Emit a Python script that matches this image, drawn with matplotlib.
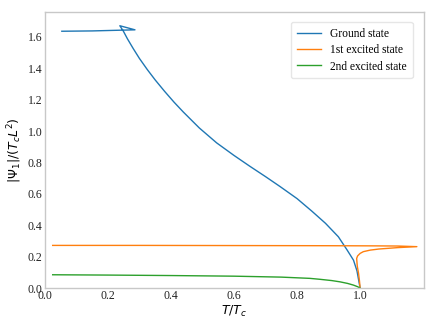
import matplotlib
matplotlib.use("Agg")
import matplotlib.pyplot as plt

# Ground state (includes the small swallowtail loop near T/Tc ~ 0.25)
ground_x = [0.054, 0.150, 0.286, 0.238, 0.249, 0.262, 0.280, 0.300, 0.325, 0.350, 0.380,
            0.410, 0.439, 0.490, 0.545, 0.600, 0.651, 0.700, 0.746, 0.800, 0.847,
            0.890, 0.931, 0.958, 0.979, 0.990, 1.000]
ground_y = [1.636, 1.638, 1.645, 1.671, 1.637, 1.588, 1.527, 1.463, 1.392, 1.326, 1.253,
            1.184, 1.122, 1.020, 0.925, 0.845, 0.775, 0.710, 0.647, 0.570, 0.490,
            0.413, 0.327, 0.245, 0.178, 0.110, 0.000]

# 1st excited state (upper branch, tip, lower branch back to Tc)
first_x = [0.025, 0.300, 0.600, 0.900, 1.050, 1.120, 1.180, 1.120, 1.060, 1.032,
           1.010, 1.000, 0.992, 0.989, 0.991, 0.995, 0.998, 1.000]
first_y = [0.272, 0.272, 0.271, 0.270, 0.269, 0.268, 0.264, 0.258, 0.249, 0.242,
           0.232, 0.221, 0.205, 0.189, 0.140, 0.094, 0.045, 0.000]

# 2nd excited state
second_x = [0.025, 0.200, 0.400, 0.600, 0.750, 0.841, 0.873, 0.910, 0.936, 0.960,
            0.979, 0.992, 1.000]
second_y = [0.085, 0.083, 0.080, 0.076, 0.070, 0.062, 0.056, 0.048, 0.040, 0.030,
            0.019, 0.009, 0.000]

labels = ["Ground state", "1st excited state", "2nd excited state"]
colors = ["#1f77b4", "#ff7f0e", "#2ca02c"]
xticks = [0.0, 0.2, 0.4, 0.6, 0.8, 1.0]
yticks = [0.0, 0.2, 0.4, 0.6, 0.8, 1.0, 1.2, 1.4, 1.6]

fig = plt.figure(figsize=(4.35, 3.18), dpi=100)
ax = fig.add_axes([0.103, 0.094, 0.872, 0.868])

ax.plot(ground_x, ground_y, color=colors[0], lw=1.0, label=labels[0])
ax.plot(first_x, first_y, color=colors[1], lw=1.0, label=labels[1])
ax.plot(second_x, second_y, color=colors[2], lw=1.0, label=labels[2])

ax.set_xlim(0, 1.203)
ax.set_ylim(0, 1.758)
ax.set_xticks(xticks)
ax.set_yticks(yticks)
ax.set_xticklabels([f"{v:.1f}" for v in xticks], family="Liberation Serif", fontsize=8.5)
ax.set_yticklabels([f"{v:.1f}" for v in yticks], family="Liberation Serif", fontsize=8.5)
ax.tick_params(length=0, pad=1.5, colors="#222222")
for s in ax.spines.values():
    s.set_color("#c8c8c8")
    s.set_linewidth(1.0)

ax.set_xlabel(r"$T/T_c$", fontsize=9, labelpad=1)
ax.set_ylabel(r"$|\Psi_1|/(T_c L^2)$", fontsize=9, labelpad=3)

leg = ax.legend(loc="upper right", prop={"family": "Liberation Serif", "size": 8.3},
                frameon=True, fancybox=True, framealpha=1.0, edgecolor="#e6e6e6",
                handlelength=2.1, handletextpad=0.8, borderpad=0.5, labelspacing=0.38,
                bbox_to_anchor=(0.985, 0.985))

fig.savefig("out.png", dpi=100)
